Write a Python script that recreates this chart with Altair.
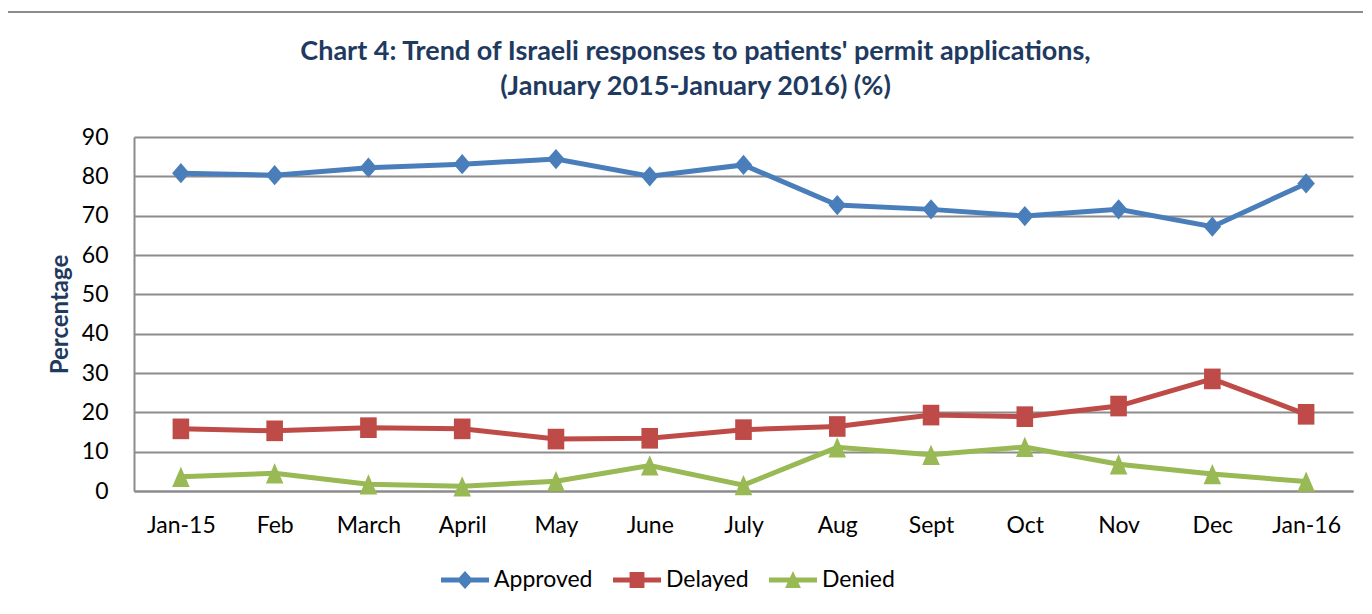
import altair as alt
import pandas as pd

months = ["Jan-15", "Feb", "March", "April", "May", "June", "July",
          "Aug", "Sept", "Oct", "Nov", "Dec", "Jan-16"]
approved = [80.8, 80.3, 82.2, 83.1, 84.4, 80.0, 82.9, 72.7, 71.6, 69.9, 71.6, 67.2, 78.2]
delayed = [15.8, 15.3, 16.1, 15.8, 13.2, 13.4, 15.6, 16.4, 19.3, 18.9, 21.6, 28.5, 19.5]
denied = [3.6, 4.5, 1.7, 1.2, 2.5, 6.5, 1.5, 11.1, 9.2, 11.2, 6.8, 4.3, 2.4]

series = ["Approved", "Delayed", "Denied"]
colors = ["#4A7EBB", "#BE4B48", "#98B954"]

rows = []
for name, vals in zip(series, [approved, delayed, denied]):
    for m, v in zip(months, vals):
        rows.append({"Month": m, "Series": name, "Value": v})
df = pd.DataFrame(rows)

FONT = "Lato"
NAVY = "#1F3A60"
GRID = "#8C8C8C"

marker_paths = [
    "M0,-1.1 L0.95,0 L0,1.1 L-0.95,0 Z",
    "M-0.9,-1.12 L0.9,-1.12 L0.9,1.12 L-0.9,1.12 Z",
    "M0,-1.1 L0.95,1.1 L-0.95,1.1 Z",
]
BAR = "M-1,-0.1 L1,-0.1 L1,0.1 L-1,0.1 Z "
legend_paths = [
    BAR + "M0,-0.37 L0.34,0 L0,0.37 L-0.34,0 Z",
    BAR + "M-0.31,-0.33 L0.31,-0.33 L0.31,0.33 L-0.31,0.33 Z",
    BAR + "M0,-0.38 L0.33,0.33 L-0.33,0.33 Z",
]

x_enc = alt.X("Month:N", sort=months,
              scale=alt.Scale(type="point", padding=0.5),
              axis=alt.Axis(title=None, labelAngle=0, ticks=False, tickSize=0,
                            domain=True, domainColor=GRID, domainWidth=2,
                            labelFont=FONT, labelFontSize=23, labelColor="#000000",
                            labelPadding=23, grid=False))
y_enc = alt.Y("Value:Q",
              scale=alt.Scale(domain=[0, 90], nice=False),
              axis=alt.Axis(values=list(range(0, 91, 10)), title="Percentage",
                            ticks=False, tickSize=0, domain=True, domainColor=GRID,
                            domainWidth=2, grid=True, gridColor=GRID, gridWidth=2,
                            labelFont=FONT, labelFontSize=23, labelColor="#000000",
                            labelPadding=26, titleFont=FONT, titleFontSize=24,
                            titleFontWeight="bold", titleColor=NAVY, titleAngle=270,
                            titleX=-74, titleY=177, titleAlign="center",
                            titleBaseline="middle"))

color_scale = alt.Scale(domain=series, range=colors)

border = alt.Chart(pd.DataFrame({"a": [0]})).mark_rect(
    fill=None, stroke="#8C8C8C", strokeWidth=2, clip=False
).encode(x=alt.value(-128), x2=alt.value(1400), y=alt.value(-125), y2=alt.value(700))

lines = alt.Chart(df).mark_line(strokeWidth=5).encode(
    x=x_enc, y=y_enc,
    color=alt.Color("Series:N", scale=color_scale, legend=None),
    detail="Series:N",
)

points = alt.Chart(df).mark_point(filled=True, opacity=1, size=340).encode(
    x=x_enc, y=y_enc,
    color=alt.Color("Series:N", scale=color_scale, legend=None),
    shape=alt.Shape("Series:N", scale=alt.Scale(domain=series, range=marker_paths),
                    legend=None),
)

legend_layer = alt.Chart(df).transform_filter("false").mark_point(
    filled=True, size=2304
).encode(
    x=x_enc, y=y_enc,
    color=alt.Color("Series:N", scale=color_scale,
                    legend=alt.Legend(title=None)),
    shape=alt.Shape("Series:N", scale=alt.Scale(domain=series, range=legend_paths),
                    legend=alt.Legend(title=None)),
)

chart = alt.layer(border, lines, points, legend_layer).resolve_scale(
    color="independent", shape="independent"
).properties(
    width=1219, height=354,
    autosize=alt.AutoSizeParams(type="none"),
    padding={"left": 126, "top": 129, "right": 10, "bottom": 112},
    title=alt.TitleParams(
        text=["Chart 4: Trend of Israeli responses to patients' permit applications,",
              "(January 2015-January 2016) (%)"],
        anchor="middle", frame="group", dx=-48, offset=-90,
        font=FONT, fontSize=27, fontWeight="bold", color=NAVY, lineHeight=35,
    ),
).configure_view(stroke=None).configure_legend(
    orient="none", legendX=307, legendY=419, direction="horizontal",
    labelFont=FONT, labelFontSize=23, labelColor="#000000", labelOffset=5,
    columnPadding=20, symbolSize=2304, symbolStrokeWidth=0, padding=0,
    symbolOpacity=1,
)

chart.save("out.html", embed_options={"renderer": "svg", "actions": False})
